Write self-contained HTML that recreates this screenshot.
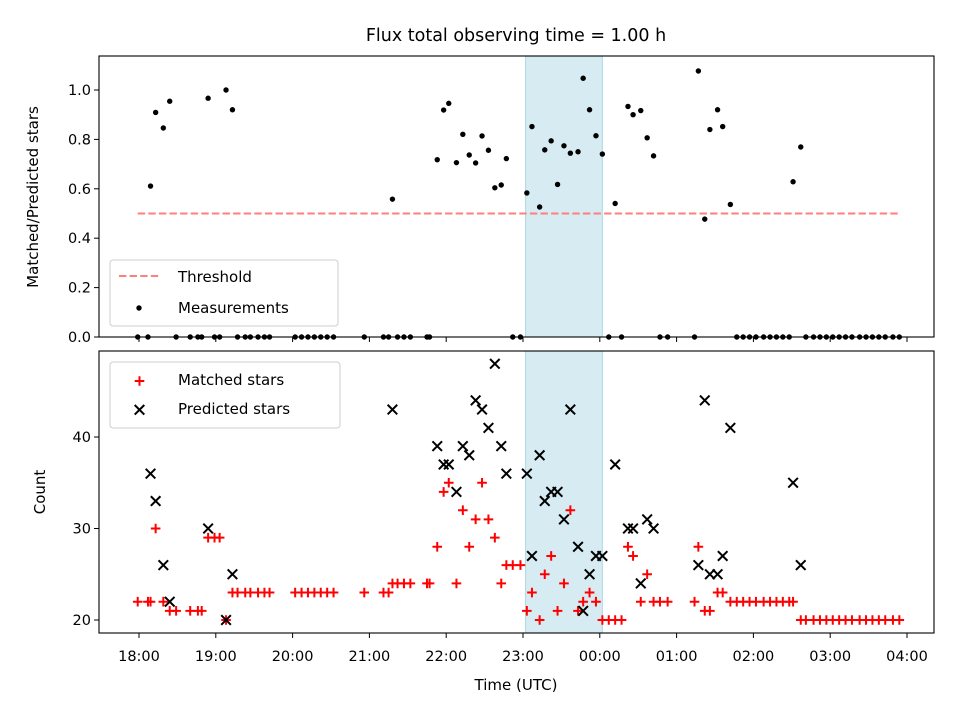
<!DOCTYPE html>
<html><head><meta charset="utf-8"><style>
html,body{margin:0;padding:0;background:#fff;}
svg{display:block;font-family:"DejaVu Sans","Liberation Sans",sans-serif;}
</style></head><body>
<svg id="fig" width="960" height="720" viewBox="0 0 960 720"></svg>
<script>
// minutes since 18:00 UTC
const times = [-1,7,9,13,19,24,29,40,46,49,54,59,63,68,73,77,83,87,93,98,102,122,127,132,137,142,147,152,176,191,195,198,202,207,212,225,227,233,238,242,248,253,258,263,268,273,278,283,287,292,298,303,307,313,317,322,327,332,337,343,347,352,357,362,367,372,377,382,386,392,397,402,407,413,434,437,442,446,452,456,462,467,472,477,482,488,493,498,503,508,511,517,521,527,532,537,542,547,552,557,563,568,573,578,583,589,594];
const matched = [22,22,22,30,22,21,21,21,21,21,29,29,29,20,23,23,23,23,23,23,23,23,23,23,23,23,23,23,23,23,23,24,24,24,24,24,24,28,34,35,24,32,28,31,35,31,29,24,26,26,26,21,23,20,25,27,21,24,32,21,22,23,22,20,20,20,20,28,27,22,25,22,22,22,22,28,21,21,23,23,22,22,22,22,22,22,22,22,22,22,22,20,20,20,20,20,20,20,20,20,20,20,20,20,20,20,20];
const predicted = [null,null,36,33,26,22,null,null,null,null,30,null,null,20,25,null,null,null,null,null,null,null,null,null,null,null,null,null,null,null,null,43,null,null,null,null,null,39,37,37,34,39,38,44,43,41,48,39,36,null,null,36,27,38,33,34,34,31,43,28,21,25,27,27,null,37,null,30,30,24,31,30,null,null,null,26,44,25,25,27,41,null,null,null,null,null,null,null,null,null,35,26,null,null,null,null,null,null,null,null,null,null,null,null,null,null,null];
const xTickMinutes = [0,60,120,180,240,300,360,420,480,540,600];
const xTickLabels = ["18:00","19:00","20:00","21:00","22:00","23:00","00:00","01:00","02:00","03:00","04:00"];
const topTicks = [0,0.2,0.4,0.6,0.8,1.0];
const topTickLabels = ["0.0","0.2","0.4","0.6","0.8","1.0"];
const botTicks = [20,30,40];
const botTickLabels = ["20","30","40"];
const threshold = 0.5;
const windowStart = 302, windowEnd = 362;

const NS="http://www.w3.org/2000/svg";
const svg=document.getElementById('fig');
function mk(tag,attrs,parent){const e=document.createElementNS(NS,tag);for(const k in attrs)e.setAttribute(k,attrs[k]);(parent||svg).appendChild(e);return e;}
const L=99,R=934;
const X=m=>139+(m)*76.8/60;
const T={top:56,bot:337}, B={top:351,bot:633};
const yTop=v=>337-v*247;
const yBot=v=>620-(v-20)*9.15;
const FS=14.5;

function frame(name){
  const g=mk('g',{});
  
  
  return g;
}
// top axes
const gt=frame('ratio-axes');
const band1=mk('rect',{x:X(windowStart),y:T.top,width:X(windowEnd)-X(windowStart),height:T.bot-T.top,fill:'#add8e6','fill-opacity':0.5,stroke:'#add8e6'},gt);


const thr=mk('line',{x1:X(Math.min(...times)),x2:X(Math.max(...times)),y1:yTop(threshold),y2:yTop(threshold),stroke:'#ff7f7f','stroke-width':2,'stroke-dasharray':'7.4,3.2'},gt);


times.forEach((t,i)=>{
  const r=predicted[i]?matched[i]/predicted[i]:0;
  const c=mk('circle',{cx:X(t),cy:yTop(r),r:2.7,fill:'#000'},gt);
  
  
});
mk('rect',{x:L,y:T.top,width:R-L,height:T.bot-T.top,fill:'none',stroke:'#000','stroke-width':1.1},gt);
topTicks.forEach((v,i)=>{
  mk('line',{x1:L-5,x2:L,y1:yTop(v),y2:yTop(v),stroke:'#000'},gt);
  const tx=mk('text',{x:L-8,y:yTop(v)+5,'text-anchor':'end','font-size':FS},gt);tx.textContent=topTickLabels[i];
  
  
});
xTickMinutes.forEach(m=>mk('line',{x1:X(m),x2:X(m),y1:T.bot,y2:T.bot+5,stroke:'#000'},gt));
const yl1=mk('text',{x:0,y:0,transform:'translate(38,197) rotate(-90)','text-anchor':'middle','font-size':FS+0.5},gt);yl1.textContent='Matched/Predicted stars';



// top legend
const lg1=mk('g',{});


mk('rect',{x:110,y:260,width:228,height:66,rx:3,fill:'#fff','fill-opacity':0.8,stroke:'#ccc'},lg1);
mk('line',{x1:119,x2:160,y1:276,y2:276,stroke:'#ff7f7f','stroke-width':2,'stroke-dasharray':'7.4,3.2'},lg1);
mk('circle',{cx:139,cy:308,r:2.7,fill:'#000'},lg1);
let t1=mk('text',{x:178,y:282,'font-size':FS+0.5},lg1);t1.textContent='Threshold';
let t2=mk('text',{x:178,y:313,'font-size':FS+0.5},lg1);t2.textContent='Measurements';

// bottom axes
const gb=frame('count-axes');
const band2=mk('rect',{x:X(windowStart),y:B.top,width:X(windowEnd)-X(windowStart),height:B.bot-B.top,fill:'#add8e6','fill-opacity':0.5,stroke:'#add8e6'},gb);


times.forEach((t,i)=>{
  const x=X(t),y=yBot(matched[i]);
  const p=mk('path',{d:`M${x-4.8},${y}H${x+4.8}M${x},${y-4.8}V${y+4.8}`,stroke:'#f00','stroke-width':2},gb);
  
  
});
times.forEach((t,i)=>{
  if(predicted[i]==null)return;
  const x=X(t),y=yBot(predicted[i]);
  const p=mk('path',{d:`M${x-4.8},${y-4.8}L${x+4.8},${y+4.8}M${x-4.8},${y+4.8}L${x+4.8},${y-4.8}`,stroke:'#000','stroke-width':2},gb);
  
  
});
mk('rect',{x:L,y:B.top,width:R-L,height:B.bot-B.top,fill:'none',stroke:'#000','stroke-width':1.1},gb);
botTicks.forEach((v,i)=>{
  mk('line',{x1:L-5,x2:L,y1:yBot(v),y2:yBot(v),stroke:'#000'},gb);
  const tx=mk('text',{x:L-8,y:yBot(v)+5,'text-anchor':'end','font-size':FS},gb);tx.textContent=botTickLabels[i];
  
  
});
xTickMinutes.forEach((m,i)=>{
  mk('line',{x1:X(m),x2:X(m),y1:B.bot,y2:B.bot+5,stroke:'#000'},gb);
  const tx=mk('text',{x:X(m),y:B.bot+28,'text-anchor':'middle','font-size':FS},gb);tx.textContent=xTickLabels[i];
  
  
});
const yl2=mk('text',{x:0,y:0,transform:'translate(45,492) rotate(-90)','text-anchor':'middle','font-size':FS+0.5},gb);yl2.textContent='Count';


const xl=mk('text',{x:516,y:690,'text-anchor':'middle','font-size':FS+0.5},gb);xl.textContent='Time (UTC)';



// bottom legend
const lg2=mk('g',{});


mk('rect',{x:110,y:362,width:230,height:66,rx:3,fill:'#fff','fill-opacity':0.8,stroke:'#ccc'},lg2);
mk('path',{d:'M134.7,381H144.3M139.5,376.2V385.8',stroke:'#f00','stroke-width':2},lg2);
mk('path',{d:'M134.7,405L144.3,414.6M134.7,414.6L144.3,405',stroke:'#000','stroke-width':2},lg2);
let t3=mk('text',{x:178,y:385,'font-size':FS+0.5},lg2);t3.textContent='Matched stars';
let t4=mk('text',{x:178,y:414,'font-size':FS+0.5},lg2);t4.textContent='Predicted stars';

const title=mk('text',{x:516,y:41,'text-anchor':'middle','font-size':17.5});
title.textContent='Flux total observing time = 1.00 h';


</script>
</body></html>
